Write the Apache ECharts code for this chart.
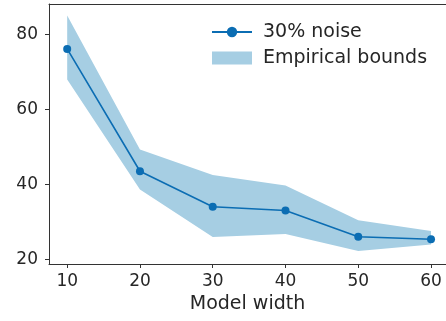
<!DOCTYPE html>
<html>
<head>
<meta charset="utf-8">
<script src="https://cdn.jsdelivr.net/npm/echarts@6/dist/echarts.min.js"></script>
<style>
  html, body { margin: 0; padding: 0; background: #fff; }
  #chart { width: 446px; height: 321px; }
</style>
</head>
<body>
<div id="chart"></div>
<script>
const widths = [10, 20, 30, 40, 50, 60];
const noise30 = [76.2, 43.5, 34.0, 33.0, 26.0, 25.3];
const upperBound = [85.1, 49.3, 42.5, 39.7, 30.4, 27.5];
const lowerBound = [68.0, 38.6, 25.9, 26.7, 22.2, 23.9];
const yTicks = [20, 40, 60, 80];

const lineColor = '#0b6db3';
const bandColor = '#a6cee3';
const textColor = '#262626';
const axisColor = '#333333';

const myChart = echarts.init(document.getElementById('chart'));

myChart.setOption({
    animation: false,
    legend: {
        left: 206,
        top: 17,
        orient: 'vertical',
        itemWidth: 40,
        itemHeight: 13,
        itemGap: 6,
        textStyle: {
            fontFamily: 'DejaVu Sans',
            fontSize: 19,
            lineHeight: 20,
            color: textColor,
            padding: [0, 0, 0, 6]
        },
        data: [
            {name: '30% noise'},
            {name: 'Empirical bounds', icon: 'rect'}
        ]
    },
    grid: {
        left: 49,
        top: 4,
        right: 0,
        bottom: 57
    },
    xAxis: [{
        type: 'value',
        min: 7.5,
        max: 62.06,
        name: 'Model width',
        nameLocation: 'middle',
        nameGap: 31,
        nameTextStyle: {
            fontFamily: 'DejaVu Sans',
            fontSize: 19,
            color: textColor
        },
        splitLine: {show: false},
        axisLine: {show: true, lineStyle: {color: axisColor, width: 1}},
        axisTick: {show: true, length: 4, lineStyle: {color: axisColor}, customValues: widths},
        axisLabel: {
            fontFamily: 'DejaVu Sans',
            fontSize: 17,
            color: textColor,
            margin: 9,
            customValues: widths
        }
    }, {
        type: 'value',
        position: 'top',
        min: 7.5,
        max: 62.06,
        axisLine: {show: true, onZero: false, lineStyle: {color: axisColor, width: 1}},
        axisTick: {show: false},
        axisLabel: {show: false},
        splitLine: {show: false}
    }],
    yAxis: {
        type: 'value',
        min: 18.7,
        max: 88.2,
        splitLine: {show: false},
        axisLine: {show: true, onZero: false, lineStyle: {color: axisColor, width: 1}},
        axisTick: {show: true, length: 4, lineStyle: {color: axisColor}, customValues: yTicks},
        axisLabel: {
            fontFamily: 'DejaVu Sans',
            fontSize: 17,
            color: textColor,
            margin: 11,
            customValues: yTicks
        }
    },
    series: [
        {
            name: 'Empirical bounds',
            type: 'custom',
            itemStyle: {color: bandColor},
            data: [[widths[0], upperBound[0]]],
            renderItem: function (params, api) {
                const pts = [];
                for (let i = 0; i < widths.length; i++) {
                    pts.push(api.coord([widths[i], upperBound[i]]));
                }
                for (let i = widths.length - 1; i >= 0; i--) {
                    pts.push(api.coord([widths[i], lowerBound[i]]));
                }
                return {
                    type: 'polygon',
                    shape: {points: pts},
                    style: {fill: bandColor}
                };
            },
            z: 1
        },
        {
            name: '30% noise',
            type: 'line',
            data: widths.map((w, i) => [w, noise30[i]]),
            symbol: 'circle',
            symbolSize: 8,
            lineStyle: {color: lineColor, width: 1.6},
            itemStyle: {color: lineColor},
            z: 3
        }
    ]
});
</script>
</body>
</html>
